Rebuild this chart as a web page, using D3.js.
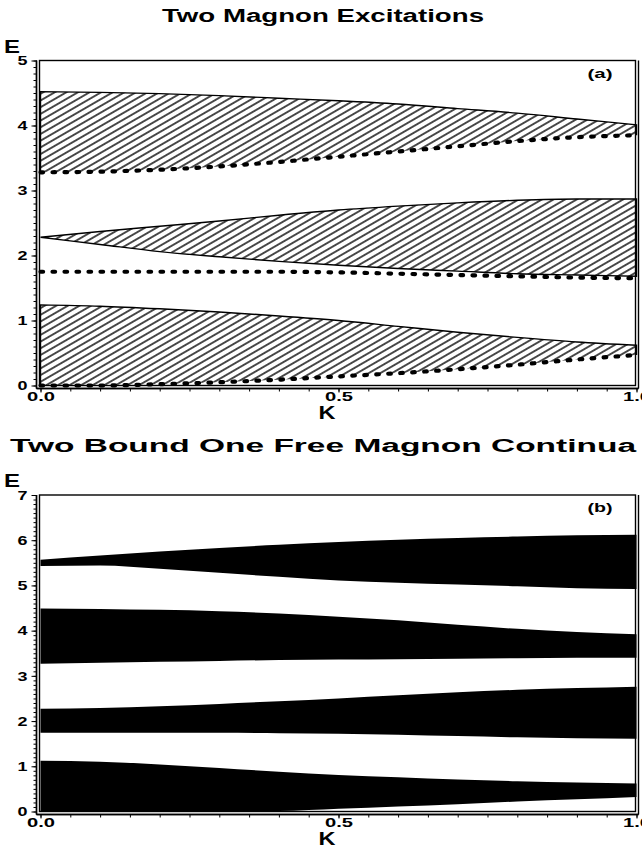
<!DOCTYPE html>
<html>
<head>
<meta charset="utf-8" />
<script src="https://d3js.org/d3.v7.min.js"></script>
<style>
  body { margin: 0; background: #fff; }
  text { font-family: "Liberation Sans", Arial, sans-serif; font-weight: bold; fill: #000; }
</style>
</head>
<body>
<svg width="642" height="860"></svg>
<script>
// momentum grid shared by every curve
const K = [0, 0.1, 0.2, 0.3, 0.4, 0.5, 0.6, 0.7, 0.8, 0.9, 1.0];

// panel (a): two magnon excitations
const aTopUpper = [4.52, 4.51, 4.49, 4.46, 4.42, 4.38, 4.33, 4.26, 4.19, 4.10, 4.01];
const aTopDots  = [3.28, 3.29, 3.32, 3.37, 3.44, 3.52, 3.60, 3.68, 3.76, 3.82, 3.85];
const aMidUpper = [2.28, 2.37, 2.45, 2.53, 2.62, 2.70, 2.76, 2.81, 2.85, 2.87, 2.87];
const aMidLower = [2.28, 2.17, 2.06, 1.98, 1.91, 1.85, 1.80, 1.76, 1.72, 1.70, 1.68];
const aMidDots  = [1.75, 1.75, 1.75, 1.75, 1.75, 1.74, 1.72, 1.70, 1.68, 1.66, 1.65];
const aLowUpper = [1.24, 1.22, 1.18, 1.13, 1.07, 1.00, 0.91, 0.82, 0.74, 0.67, 0.62];
const aLowDots  = [0.00, 0.00, 0.02, 0.05, 0.09, 0.14, 0.19, 0.25, 0.32, 0.40, 0.47];

// panel (b): two bound + one free magnon continua
const bBand1Upper = [5.57, 5.66, 5.75, 5.83, 5.90, 5.96, 6.01, 6.05, 6.08, 6.11, 6.12];
const bBand1Lower = [5.43, 5.44, 5.37, 5.28, 5.19, 5.11, 5.06, 5.02, 4.98, 4.94, 4.92];
const bBand2Upper = [4.49, 4.48, 4.46, 4.43, 4.38, 4.31, 4.23, 4.13, 4.04, 3.97, 3.92];
const bBand2Lower = [3.27, 3.29, 3.31, 3.33, 3.35, 3.36, 3.37, 3.38, 3.39, 3.40, 3.40];
const bBand3Upper = [2.27, 2.29, 2.33, 2.38, 2.44, 2.50, 2.57, 2.64, 2.69, 2.73, 2.76];
const bBand3Lower = [1.74, 1.74, 1.74, 1.74, 1.73, 1.72, 1.70, 1.67, 1.64, 1.62, 1.61];
const bBand4Upper = [1.12, 1.10, 1.04, 0.96, 0.88, 0.81, 0.76, 0.71, 0.67, 0.64, 0.62];
const bBand4Lower = [0.00, 0.00, 0.00, 0.00, 0.01, 0.06, 0.11, 0.16, 0.22, 0.27, 0.32];

const xTicks = [0, 0.5, 1.0];
const xTickLabels = ["0.0", "0.5", "1.0"];

const svg = d3.select("svg");

// diagonal hatch used in panel (a)
svg.append("defs").append("pattern")
  .attr("id", "hatch")
  .attr("patternUnits", "userSpaceOnUse")
  .attr("width", 10).attr("height", 5.8)
  .attr("patternTransform", "rotate(-30)")
  .append("line")
  .attr("x1", 0).attr("x2", 10).attr("y1", 2.9).attr("y2", 2.9)
  .attr("stroke", "#000").attr("stroke-width", 1.4);

function pts(arr) { return K.map((k, i) => ({ k: k, e: arr[i] })); }

function drawPanel(p) {
  const x = d3.scaleLinear().domain([0, 1]).range([40.5, 636.5]);
  const y = d3.scaleLinear().domain([0, p.eMax]).range([p.bottom, p.top]);
  const g = svg.append("g");

  // title and axis names
  svg.append("text").attr("x", 323).attr("y", p.titleY).attr("text-anchor", "middle")
    .attr("font-size", 18).attr("textLength", p.titleLen).attr("lengthAdjust", "spacingAndGlyphs")
    .text(p.title);
  svg.append("text").attr("x", 4).attr("y", p.top - 8).attr("font-size", 18)
    .attr("textLength", 16).attr("lengthAdjust", "spacingAndGlyphs").text("E");
  svg.append("text").attr("x", 327).attr("y", p.bottom + 33).attr("text-anchor", "middle")
    .attr("font-size", 18).attr("textLength", 17).attr("lengthAdjust", "spacingAndGlyphs").text("K");
  svg.append("text").attr("x", 600).attr("y", p.top + 17).attr("text-anchor", "middle")
    .attr("font-size", 12).attr("textLength", 25).attr("lengthAdjust", "spacingAndGlyphs").text(p.tag);

  p.draw(g, x, y);

  // frame (double lines as in the original)
  g.append("rect").attr("x", 39.5).attr("y", p.top).attr("width", 596).attr("height", p.bottom - p.top)
    .attr("fill", "none").attr("stroke", "#000").attr("stroke-width", 1.4);
  g.append("line").attr("x1", 638.5).attr("x2", 638.5).attr("y1", p.top).attr("y2", p.bottom + 3)
    .attr("stroke", "#000").attr("stroke-width", 1.4);

  // y axis with minor ticks
  const yAxisG = g.append("g").attr("transform", "translate(36.5,0)");
  yAxisG.append("g")
    .call(d3.axisLeft(y).tickValues(d3.range(0, p.eMax + 0.01, 0.1)).tickSize(3).tickSizeOuter(0).tickFormat(""));
  yAxisG.append("g")
    .call(d3.axisLeft(y).tickValues(d3.range(0, p.eMax + 1)).tickSize(5).tickSizeOuter(0).tickFormat(d3.format("d")));
  yAxisG.selectAll("path.domain").attr("stroke-width", 1.4).attr("d", "M0," + p.top + "V" + (p.bottom + 3));
  yAxisG.selectAll("text").attr("font-size", 12).attr("x", -9).attr("dy", "0.36em")
    .attr("textLength", 10).attr("lengthAdjust", "spacingAndGlyphs")
    .style("font-family", "Liberation Sans").style("font-weight", "bold");

  // x axis with minor ticks
  const xAxisG = g.append("g").attr("transform", "translate(0," + (p.bottom + 3) + ")");
  xAxisG.append("g")
    .call(d3.axisBottom(x).tickValues(d3.range(0, 1.001, 0.05)).tickSize(3).tickSizeOuter(0).tickFormat(""));
  xAxisG.append("g")
    .call(d3.axisBottom(x).tickValues(xTicks).tickSize(4).tickSizeOuter(0).tickFormat((d, i) => xTickLabels[i]));
  xAxisG.selectAll("path.domain").attr("stroke-width", 1.4).attr("d", "M36.5,0H638.5");
  xAxisG.selectAll("text").attr("font-size", 12).attr("y", 4)
    .attr("textLength", 28).attr("lengthAdjust", "spacingAndGlyphs")
    .style("font-family", "Liberation Sans").style("font-weight", "bold");
}

// panel (a)
drawPanel({
  title: "Two Magnon Excitations", titleY: 22, titleLen: 322, tag: "(a)",
  eMax: 5, top: 60.5, bottom: 385.5,
  draw: function (g, x, y) {
    const curve = d3.curveMonotoneX;
    const line = d3.line().x(d => x(d.k)).y(d => y(d.e)).curve(curve);
    const bands = [
      { up: aTopUpper, lo: aTopDots, dotted: true },
      { up: aMidUpper, lo: aMidLower, dotted: false },
      { up: aLowUpper, lo: aLowDots, dotted: true }
    ];
    bands.forEach(b => {
      const data = K.map((k, i) => ({ k: k, lo: b.lo[i], up: b.up[i] }));
      g.append("path").datum(data)
        .attr("d", d3.area().x(d => x(d.k)).y0(d => y(d.lo)).y1(d => y(d.up)).curve(curve))
        .attr("fill", "url(#hatch)");
      // solid outline: left edge, upper curve, right edge (and lower curve when not dotted)
      const n = K.length - 1;
      g.append("path")
        .attr("d", "M" + x(0) + "," + y(b.lo[0]) + "L" + line(pts(b.up)).slice(1) + "L" + x(1) + "," + y(b.lo[n]) +
          (b.dotted ? "" : "L" + line(pts(b.lo).reverse()).slice(1)))
        .attr("fill", "none").attr("stroke", "#000").attr("stroke-width", 1.4);
    });
    [aTopDots, aMidDots, aLowDots].forEach(arr => {
      g.append("path").datum(pts(arr)).attr("d", line)
        .attr("fill", "none").attr("stroke", "#000").attr("stroke-width", 4.2)
        .attr("stroke-linecap", "round").attr("stroke-dasharray", "2.6 9.4");
    });
  }
});

// panel (b)
drawPanel({
  title: "Two Bound One Free Magnon Continua", titleY: 452, titleLen: 626, tag: "(b)",
  eMax: 7, top: 495, bottom: 811.5,
  draw: function (g, x, y) {
    const bands = [
      [bBand1Upper, bBand1Lower],
      [bBand2Upper, bBand2Lower],
      [bBand3Upper, bBand3Lower],
      [bBand4Upper, bBand4Lower]
    ];
    bands.forEach(b => {
      const data = K.map((k, i) => ({ k: k, up: b[0][i], lo: b[1][i] }));
      g.append("path").datum(data)
        .attr("d", d3.area().x(d => x(d.k)).y0(d => y(d.lo)).y1(d => y(d.up)).curve(d3.curveMonotoneX))
        .attr("fill", "#000");
    });
  }
});
</script>
</body>
</html>
